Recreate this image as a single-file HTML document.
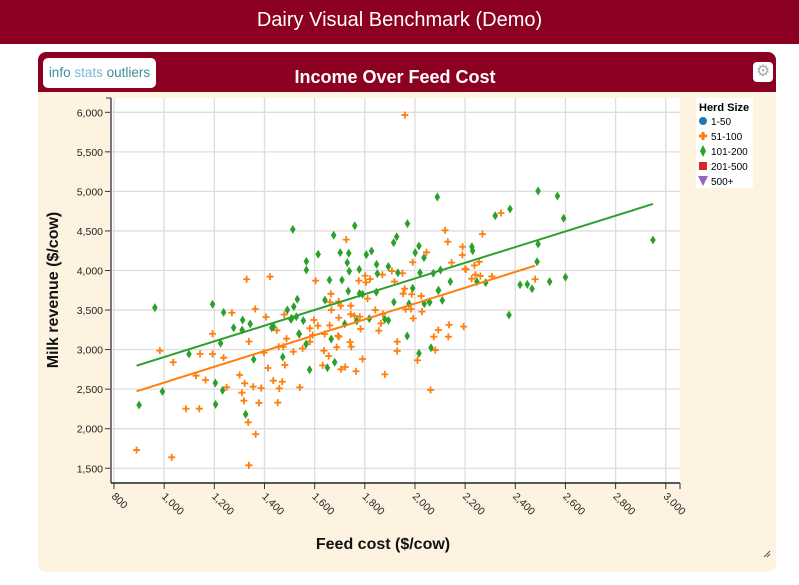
<!DOCTYPE html>
<html><head><meta charset="utf-8"><style>
body{margin:0;width:799px;height:585px;background:#fff;font-family:"Liberation Sans",sans-serif;overflow:hidden;position:relative}
#banner{position:absolute;left:0;top:0;width:799px;height:44px;background:#8c0021;color:#fff;font-size:20px;text-align:center;line-height:40px;font-weight:300}
#panel{position:absolute;left:38px;top:52px;width:738px;height:520px;background:#fef3e1;border-radius:8px;overflow:hidden}
#phead{position:absolute;left:0;top:0;width:738px;height:40px;background:#8c0021}
#tabs{position:absolute;left:5px;top:6px;width:113px;height:30px;background:#fff;border-radius:5px;font-size:13.5px;line-height:30px;text-align:center;color:#3a8f96}
#title{position:absolute;left:0;width:714px;top:15px;text-align:center;color:#fff;font-weight:bold;font-size:18px}
#gear{position:absolute;left:715px;top:10px;width:20px;height:20px;background:#fff;border-radius:4px;color:#aaa;font-size:16px;line-height:20px;text-align:center}
svg{position:absolute;left:0;top:0}
</style></head><body>
<div id="banner">Dairy Visual Benchmark (Demo)</div>
<div id="panel">
<div id="phead"></div>
<div id="tabs"><span>info</span> <span style="color:#7bb8d8">stats</span> <span>outliers</span></div>
<div id="title">Income Over Feed Cost</div>
<div id="gear">⚙</div>
</div>
<svg id="chart" width="799" height="585"></svg>
<script>
const xTicks=[800,1000,1200,1400,1600,1800,2000,2200,2400,2600,2800,3000];
const yTicks=[1500,2000,2500,3000,3500,4000,4500,5000,5500,6000];
const greenX=[963,900,993,1099,1193,1237,1277,1313,1311,1343,1225,1204,1233,1205,1325,1357,1429,1491,1517,1531,1513,1505,1555,1537,1567,1567,1614,1676,1659,1641,1566,1473,1580,1651,1680,1666,1760,1970,1702,1736,1730,1738,1806,1827,1847,1778,1894,1927,1915,2016,2001,2036,1709,1779,1791,1734,1850,1846,1916,1991,2020,1976,2037,2057,2073,2102,2141,2093,1527,1509,1436,1880,1894,1818,1720,1768,1539,1969,2016,2064,2089,2491,2568,2593,2379,2320,2227,2230,2491,2487,1932,2247,2282,2419,2448,2467,2537,2600,2375,2094,2109,2059,2949];
const greenY=[3530,2300,2470,2945,3573,3470,3277,3374,3248,3325,3080,2578,2485,2308,2182,2877,3277,3500,3543,3636,4520,3383,3366,3200,4116,4006,4205,4445,3880,3627,3070,2906,2746,2770,2840,3134,4566,4592,4226,4218,4100,3990,4200,4247,4078,4015,4050,4427,4352,4310,4226,4162,3880,3710,3700,3740,3960,3727,3600,3775,3972,3580,3580,3605,3965,4007,3860,3745,3415,3395,3290,3383,3370,3391,3325,3363,3197,3172,2953,3024,4929,5005,4942,4660,4777,4692,4300,4250,4335,4111,3972,3860,3846,3820,3825,3770,3860,3914,3437,3750,3623,3598,4386];
const orangeX=[890,1030,983,1036,1087,1140,1143,1193,1193,1127,1165,1237,1249,1270,1301,1310,1318,1321,1329,1338,1335,1365,1338,1355,1378,1387,1363,1406,1414,1435,1422,1398,1449,1459,1471,1453,1481,1457,1475,1488,1515,1541,1479,1552,1581,1581,1592,1597,1613,1637,1656,1632,1640,1660,1667,1661,1665,1604,1693,1688,1696,1696,1726,1776,1801,1821,1805,1744,1704,1744,1759,1780,1783,1811,1842,1872,1864,1856,1697,1741,1746,1722,1705,1765,1791,1880,1870,1908,1950,1918,1959,1953,1987,2025,2028,1993,1963,1984,1929,1929,2010,2136,2194,2093,2075,2133,2081,2062,1991,2046,2120,2131,2146,2190,2189,2203,2343,2269,2256,2237,2200,2226,2241,2261,2307,2479,1960];
const orangeY=[1730,1638,2986,2840,2253,2253,2944,2944,3200,2670,2616,2898,2523,3466,2679,2455,2354,2574,3889,3102,2081,1930,1537,2531,2326,2513,3513,3412,2767,2607,3922,2960,3244,2510,2594,2329,2806,3036,3036,3138,2973,2523,3442,3015,3100,3269,3185,3374,3302,2986,2919,2801,3197,3306,3500,3600,3705,3871,3173,3029,3403,3610,4390,3871,3934,3892,3850,3555,3555,3447,3425,3416,3260,3644,3500,3450,3332,3239,3163,3096,3036,2780,2751,2726,2881,2687,3947,3993,3965,3860,3770,3707,3700,3677,3480,3395,3510,3513,3100,2983,2865,3313,3290,3247,3163,3163,2994,2490,4104,4230,4508,4364,4100,4300,4196,4015,4727,4460,4110,4065,4020,3896,3947,3930,3925,3889,5965];
const greenTrendX=[890,2949], greenTrendY=[2797,4841];
const orangeTrendX=[890,2479], orangeTrendY=[2473,4061];
const legendLabels=["1-50","51-100","101-200","201-500","500+"];

const NS="http://www.w3.org/2000/svg";
const svg=document.getElementById('chart');
const X0=111,X1=680,Y0=98,Y1=483;
const xs=v=>114+(v-800)*0.2508;
const ys=v=>112.3+(6000-v)*0.0791;
function mk(t,a,p){const e=document.createElementNS(NS,t);for(const k in a)e.setAttribute(k,a[k]);(p||svg).appendChild(e);return e;}
let e;
e=mk('rect',{x:X0,y:Y0,width:X1-X0,height:Y1-Y0,fill:'#fff'});


xTicks.forEach(v=>{const x=xs(v);
 e=mk('line',{x1:x,x2:x,y1:Y0,y2:Y1,stroke:'#ddd','stroke-width':1.3});
 
 
 mk('line',{x1:x,x2:x,y1:Y1,y2:Y1+6,stroke:'#333'});
 e=mk('text',{x:x-3,y:Y1+14,'font-size':10.5,fill:'#222',transform:`rotate(45 ${x-3} ${Y1+14})`});
 e.textContent=v.toLocaleString('en-US');
 
 
});
yTicks.forEach(v=>{const y=ys(v);
 e=mk('line',{x1:X0,x2:X1,y1:y,y2:y,stroke:'#ddd','stroke-width':1.3});
 
 
 mk('line',{x1:X0-6,x2:X0,y1:y,y2:y,stroke:'#333'});
 e=mk('text',{x:X0-8,y:y+4,'font-size':10.5,fill:'#222','text-anchor':'end'});
 e.textContent=v.toLocaleString('en-US');
 
 
});
e=mk('line',{x1:X0,x2:X0,y1:Y0,y2:Y1,stroke:'#777','stroke-width':2});


mk('line',{x1:X0-5,x2:X0,y1:Y0,y2:Y0,stroke:'#333'});
e=mk('line',{x1:X0,x2:X1,y1:Y1,y2:Y1,stroke:'#222','stroke-width':1.5});


mk('line',{x1:X1,x2:X1,y1:Y1,y2:Y1+6,stroke:'#333'});
e=mk('text',{x:383,y:549,'font-size':16,'font-weight':'bold','text-anchor':'middle',fill:'#111'});
e.textContent='Feed cost ($/cow)';


e=mk('text',{x:58,y:290,'font-size':16,'font-weight':'bold','text-anchor':'middle',fill:'#111',transform:'rotate(-90 58 290)'});
e.textContent='Milk revenue ($/cow)';


function plus(x,y,c,g){return mk('path',{d:`M${x-3.5} ${y}h7M${x} ${y-3.5}v7`,stroke:c,'stroke-width':1.8},g);}
function diamond(x,y,c,g){return mk('path',{d:`M${x} ${y-4.5}L${x+2.8} ${y}L${x} ${y+4.5}L${x-2.8} ${y}Z`,fill:c},g);}
orangeX.forEach((v,i)=>{e=plus(xs(v),ys(orangeY[i]),'#ff7f0e');
 
 });
greenX.forEach((v,i)=>{e=diamond(xs(v),ys(greenY[i]),'#2ca02c');
 
 });
e=mk('line',{x1:xs(greenTrendX[0]),y1:ys(greenTrendY[0]),x2:xs(greenTrendX[1]),y2:ys(greenTrendY[1]),stroke:'#2ca02c','stroke-width':2});


e=mk('line',{x1:xs(orangeTrendX[0]),y1:ys(orangeTrendY[0]),x2:xs(orangeTrendX[1]),y2:ys(orangeTrendY[1]),stroke:'#ff7f0e','stroke-width':2});


const lg=mk('g',{});


mk('rect',{x:696,y:98,width:57,height:90,fill:'#fff'},lg);
e=mk('text',{x:699,y:111,'font-size':11,'font-weight':'bold'},lg);e.textContent='Herd Size';
const cols=['#1f77b4','#ff7f0e','#2ca02c','#d62728','#9467bd'];
legendLabels.forEach((l,i)=>{const y=121+i*15;const g=mk('g',{},lg);
 
 
 if(i==0)mk('circle',{cx:703,cy:y,r:4,fill:cols[0]},g);
 if(i==1)mk('path',{d:`M699 ${y}h8M703 ${y-4}v8`,stroke:cols[1],'stroke-width':3},g);
 if(i==2)mk('path',{d:`M703 ${y-6}L706 ${y}L703 ${y+6}L700 ${y}Z`,fill:cols[2]},g);
 if(i==3)mk('rect',{x:699,y:y-4,width:8,height:8,fill:cols[3]},g);
 if(i==4)mk('path',{d:`M698 ${y-5}H708L703 ${y+5}Z`,fill:cols[4]},g);
 const t=mk('text',{x:711,y:y+4,'font-size':10},g);t.textContent=l;});
e=mk('path',{d:'M764 557L770 551M767 557L770 554',stroke:'#555'});


</script>
</body></html>
